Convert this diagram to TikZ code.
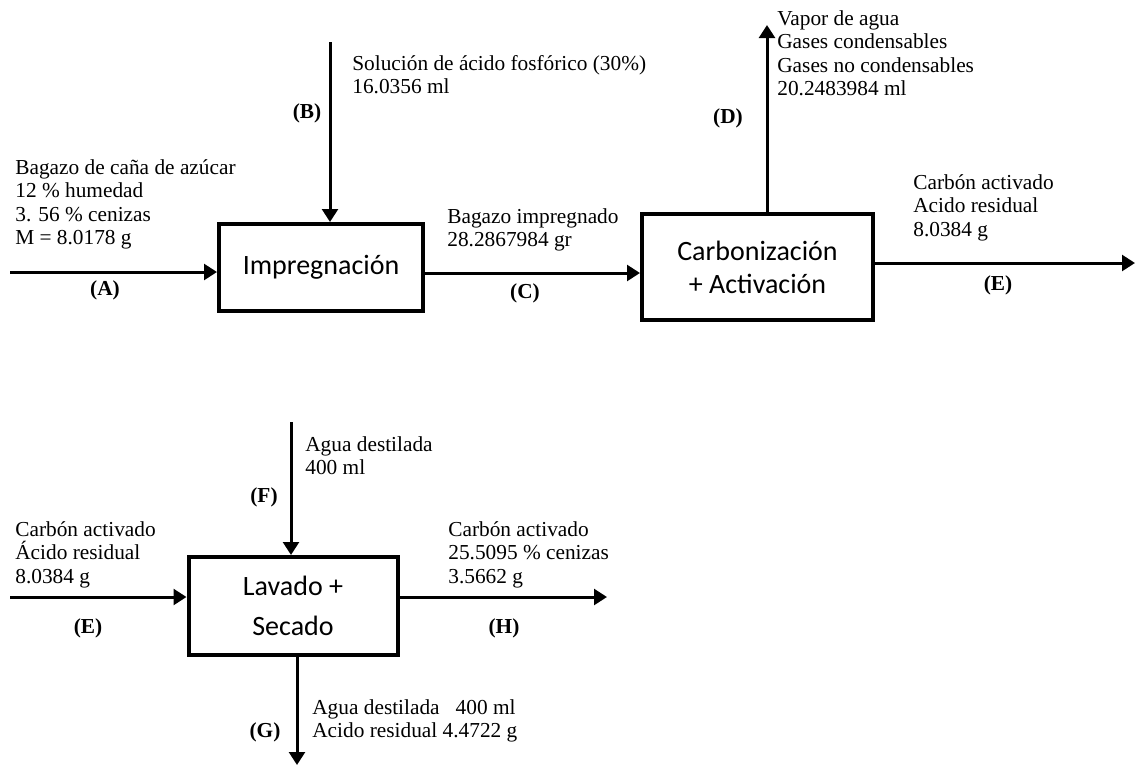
\documentclass[tikz,border=0pt]{standalone}
\usepackage{fontspec}
\setmainfont{Liberation Serif}
\newfontfamily\boxfont{Carlito}
\usetikzlibrary{arrows.meta}
\begin{document}
\begin{tikzpicture}[x=0.6pt,y=-0.6pt,
  arr/.style={line width=1.8pt,-{Triangle[length=7.8pt,width=9.5pt]}},
  proc/.style={draw,line width=2.4pt,inner sep=0pt,align=center,font=\boxfont\fontsize{16.8pt}{19.8pt}\selectfont},
  lbl/.style={anchor=base west,align=left,inner sep=0pt,font=\fontsize{12.8pt}{14.1pt}\selectfont},
  tag/.style={inner sep=0pt,font=\bfseries\fontsize{12.8pt}{14.1pt}\selectfont}]
\useasboundingbox (0,0) rectangle (1136,766);

% process boxes
\node[proc,minimum width=122.4pt,minimum height=52.2pt] (imp) at (321,267.5) {Impregnación};
\node[proc,minimum width=138.6pt,minimum height=63.6pt] (carb) at (757.5,267) {Carbonización\\+ Activación};
\node[proc,minimum width=125.4pt,minimum height=58.8pt,font=\boxfont\fontsize{16.8pt}{24pt}\selectfont] (lav) at (293,606) {Lavado +\\Secado};

% free ends
\coordinate (a0) at (10,272);
\coordinate (b0) at (330,42);
\coordinate (c0) at (0,273);
\coordinate (d0) at (767,25);
\coordinate (e0) at (1135,263);
\coordinate (e1) at (10,597);
\coordinate (f0) at (291,422);
\coordinate (h0) at (607,597);
\coordinate (g0) at (297,765);

% connectors
\draw[arr] (a0) -- (a0 -| imp.west);
\draw[arr] (b0) -- (b0 |- imp.north);
\draw[arr] (c0 -| imp.east) -- (c0 -| carb.west);
\draw[arr] (d0 |- carb.north) -- (d0);
\draw[arr] (e0 -| carb.east) -- (e0);
\draw[arr] (e1) -- (e1 -| lav.west);
\draw[arr] (f0) -- (f0 |- lav.north);
\draw[arr] (h0 -| lav.east) -- (h0);
\draw[arr] (g0 |- lav.south) -- (g0);

% stream texts (anchor = baseline of the last line)
\node[lbl] (tA) at (15,244.5) {Bagazo de caña de azúcar\\12 \% humedad\\3. 56 \% cenizas\\M = 8.0178 g};
\node[lbl] (tB) at (352,93.5) {Solución de ácido fosfórico (30\%)\\16.0356 ml};
\node[lbl] (tC) at (447,246.5) {Bagazo impregnado\\28.2867984 gr};
\node[lbl] (tD) at (777,95.5) {Vapor de agua\\Gases condensables\\Gases no condensables\\20.2483984 ml};
\node[lbl] (tE) at (913,236) {Carbón activado\\Acido residual\\8.0384 g};
\node[lbl] (tF) at (305,474.5) {Agua destilada\\400 ml};
\node[lbl] (tE2) at (15,583) {Carbón activado\\Ácido residual\\8.0384 g};
\node[lbl] (tH) at (448,583) {Carbón activado\\25.5095 \% cenizas\\3.5662 g};
\node[lbl] (tG) at (312,737.5) {Agua destilada\ \ \ 400 ml\\Acido residual 4.4722 g};

% stream tags
\node[tag] (kA) at (105,290) {(A)};
\node[tag] (kB) at (307,113) {(B)};
\node[tag] (kC) at (525,293) {(C)};
\node[tag] (kD) at (728,118) {(D)};
\node[tag] (kE) at (998,285) {(E)};
\node[tag] (kF) at (264,497) {(F)};
\node[tag] (kE2) at (88,628) {(E)};
\node[tag] (kH) at (504,628) {(H)};
\node[tag] (kG) at (265,732) {(G)};
\end{tikzpicture}
\end{document}
